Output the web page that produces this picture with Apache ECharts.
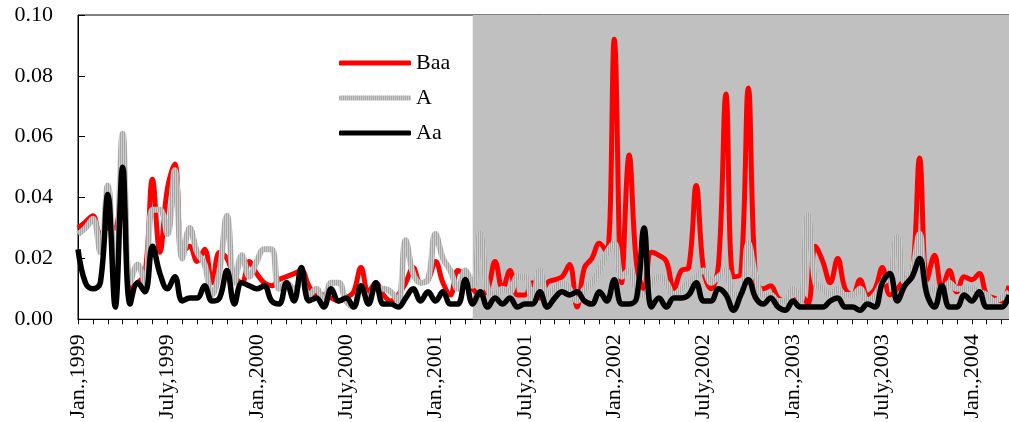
<!DOCTYPE html>
<html>
<head>
<meta charset="utf-8">
<script src="https://cdn.jsdelivr.net/npm/echarts@6/dist/echarts.min.js"></script>
<style>
  html, body { margin: 0; padding: 0; background: #fff; }
  #chart { width: 1009px; height: 422px; }
</style>
</head>
<body>
<div id="chart"></div>
<script>
// half-monthly observations, Jan 1999 .. spring 2004
const tickLabels = ['Jan.,1999', 'July,1999', 'Jan.,2000', 'July,2000', 'Jan.,2001', 'July,2001',
  'Jan.,2002', 'July,2002', 'Jan.,2003', 'July,2003', 'Jan.,2004']

const baa = [
  0.030, 0.032, 0.034, 0.028, 0.030, 0.030, 0.055, 0.010, 0.012, 0.015,
  0.046, 0.022, 0.043, 0.051, 0.022, 0.024, 0.019, 0.023, 0.012, 0.022,
  0.020, 0.014, 0.012, 0.019, 0.015, 0.012, 0.011, 0.013, 0.014, 0.015,
  0.016, 0.011, 0.008, 0.008, 0.007, 0.006, 0.007, 0.009, 0.017, 0.009,
  0.012, 0.008, 0.006, 0.008, 0.012, 0.017, 0.012, 0.013, 0.019, 0.012,
  0.008, 0.016, 0.014, 0.010, 0.008, 0.010, 0.019, 0.010, 0.016, 0.008,
  0.008, 0.012, 0.007, 0.012, 0.013, 0.014, 0.018, 0.004, 0.017, 0.020,
  0.025, 0.022, 0.092, 0.012, 0.054, 0.018, 0.010, 0.022, 0.021, 0.019,
  0.010, 0.016, 0.017, 0.044, 0.016, 0.010, 0.018, 0.074, 0.014, 0.015,
  0.076, 0.012, 0.010, 0.011, 0.007, 0.006, 0.006, 0.008, 0.005, 0.024,
  0.019, 0.012, 0.020, 0.010, 0.008, 0.013, 0.008, 0.010, 0.017, 0.008,
  0.010, 0.013, 0.014, 0.053, 0.013, 0.021, 0.010, 0.016, 0.009, 0.014,
  0.013, 0.015, 0.008, 0.007, 0.006, 0.011
]

const aRated = [
  0.028, 0.030, 0.033, 0.022, 0.044, 0.010, 0.061, 0.012, 0.018, 0.012,
  0.036, 0.036, 0.028, 0.049, 0.020, 0.030, 0.022, 0.018, 0.008, 0.016,
  0.034, 0.012, 0.021, 0.014, 0.019, 0.023, 0.023, 0.010, 0.012, 0.010,
  0.012, 0.008, 0.010, 0.006, 0.012, 0.012, 0.006, 0.004, 0.010, 0.007,
  0.010, 0.010, 0.009, 0.006, 0.026, 0.015, 0.012, 0.013, 0.028, 0.020,
  0.016, 0.010, 0.016, 0.011, 0.028, 0.010, 0.008, 0.010, 0.009, 0.014,
  0.014, 0.006, 0.016, 0.008, 0.010, 0.012, 0.010, 0.006, 0.010, 0.012,
  0.016, 0.022, 0.025, 0.014, 0.016, 0.010, 0.008, 0.012, 0.014, 0.012,
  0.008, 0.010, 0.012, 0.014, 0.016, 0.012, 0.014, 0.016, 0.008, 0.008,
  0.025, 0.014, 0.008, 0.008, 0.006, 0.006, 0.010, 0.006, 0.034, 0.012,
  0.010, 0.008, 0.010, 0.008, 0.008, 0.010, 0.006, 0.008, 0.012, 0.014,
  0.027, 0.012, 0.016, 0.028, 0.010, 0.010, 0.008, 0.012, 0.010, 0.010,
  0.010, 0.009, 0.008, 0.006, 0.007, 0.009
]

const aa = [
  0.023, 0.012, 0.010, 0.012, 0.041, 0.004, 0.050, 0.005, 0.012, 0.009,
  0.024, 0.015, 0.010, 0.014, 0.006, 0.007, 0.007, 0.011, 0.006, 0.007,
  0.016, 0.005, 0.012, 0.011, 0.010, 0.011, 0.006, 0.005, 0.012, 0.006,
  0.017, 0.006, 0.007, 0.004, 0.010, 0.006, 0.007, 0.004, 0.011, 0.005,
  0.012, 0.005, 0.005, 0.004, 0.007, 0.010, 0.006, 0.009, 0.006, 0.009,
  0.005, 0.005, 0.013, 0.005, 0.009, 0.004, 0.007, 0.005, 0.007, 0.004,
  0.005, 0.005, 0.009, 0.004, 0.007, 0.009, 0.008, 0.009, 0.006, 0.005,
  0.009, 0.006, 0.013, 0.005, 0.005, 0.007, 0.030, 0.004, 0.007, 0.004,
  0.007, 0.007, 0.008, 0.012, 0.006, 0.006, 0.010, 0.008, 0.003, 0.008,
  0.013, 0.007, 0.005, 0.007, 0.004, 0.003, 0.006, 0.004, 0.004, 0.004,
  0.004, 0.006, 0.007, 0.004, 0.004, 0.003, 0.005, 0.004, 0.012, 0.015,
  0.006, 0.011, 0.014, 0.020, 0.008, 0.004, 0.011, 0.004, 0.004, 0.008,
  0.006, 0.009, 0.004, 0.004, 0.004, 0.008
]

const shadeStart = 53   // shaded period starts here (index into baa/aRated/aa)
const labelEvery = 12   // one label every six months
const tickEvery = 2     // roughly monthly ticks

const categories = baa.map((v, i) => String(i))

// striped grey like the original pattern line
const stripe = document.createElement('canvas')
stripe.width = 2
stripe.height = 1
const sctx = stripe.getContext('2d')
sctx.fillStyle = '#a6a6a6'
sctx.fillRect(0, 0, 1, 1)
sctx.fillStyle = '#cdcdcd'
sctx.fillRect(1, 0, 1, 1)
const stripeColor = { image: stripe, repeat: 'repeat' }

const font = 'Liberation Serif'

const chart = echarts.init(document.getElementById('chart'))
chart.setOption({
  animation: false,
  backgroundColor: '#fff',
  grid: {
    left: 78,
    right: 0,
    top: 15,
    bottom: 99,
    show: true,
    borderColor: '#000',
    borderWidth: 1
  },
  legend: {
    data: ['Baa', 'A', 'Aa'],
    orient: 'vertical',
    left: 339,
    top: 52,
    padding: 0,
    itemWidth: 72,
    itemHeight: 5,
    itemGap: 13,
    icon: 'roundRect',
    textStyle: {
      fontFamily: font,
      fontSize: 22,
      color: '#000'
    }
  },
  xAxis: {
    type: 'category',
    data: categories,
    boundaryGap: false,
    axisLine: { lineStyle: { color: '#000', width: 1 } },
    axisTick: {
      interval: (idx) => idx % tickEvery === 0,
      length: 5,
      lineStyle: { color: '#000' }
    },
    axisLabel: {
      interval: (idx) => idx % labelEvery === 0,
      formatter: (v, idx) => tickLabels[idx / labelEvery] || '',
      rotate: 90,
      margin: 15,
      fontFamily: font,
      fontSize: 22,
      color: '#000'
    },
    splitLine: { show: false }
  },
  yAxis: {
    type: 'value',
    min: 0,
    max: 0.1,
    interval: 0.02,
    axisLine: { show: true, lineStyle: { color: '#000', width: 1 } },
    axisTick: { show: true, inside: true, length: 7, lineStyle: { color: '#000' } },
    axisLabel: {
      formatter: (v) => v.toFixed(2),
      margin: 25,
      fontFamily: font,
      fontSize: 22,
      color: '#000'
    },
    splitLine: { show: false }
  },
  series: [
    {
      name: 'shade',
      type: 'line',
      data: [],
      z: 0,
      silent: true,
      markArea: {
        silent: true,
        itemStyle: { color: '#c0c0c0' },
        data: [[{ xAxis: shadeStart }, { xAxis: categories.length - 1 }]]
      }
    },
    {
      name: 'Baa',
      type: 'line',
      data: baa,
      smooth: 0.4,
      symbol: 'none',
      z: 2,
      itemStyle: { color: '#ff0000' },
      lineStyle: { color: '#ff0000', width: 5 }
    },
    {
      name: 'A',
      type: 'line',
      data: aRated,
      smooth: 0.4,
      symbol: 'none',
      z: 3,
      itemStyle: { color: stripeColor },
      lineStyle: { color: stripeColor, width: 6 }
    },
    {
      name: 'Aa',
      type: 'line',
      data: aa,
      smooth: 0.4,
      symbol: 'none',
      z: 4,
      itemStyle: { color: '#000' },
      lineStyle: { color: '#000', width: 5.5 }
    }
  ]
})
</script>
</body>
</html>
